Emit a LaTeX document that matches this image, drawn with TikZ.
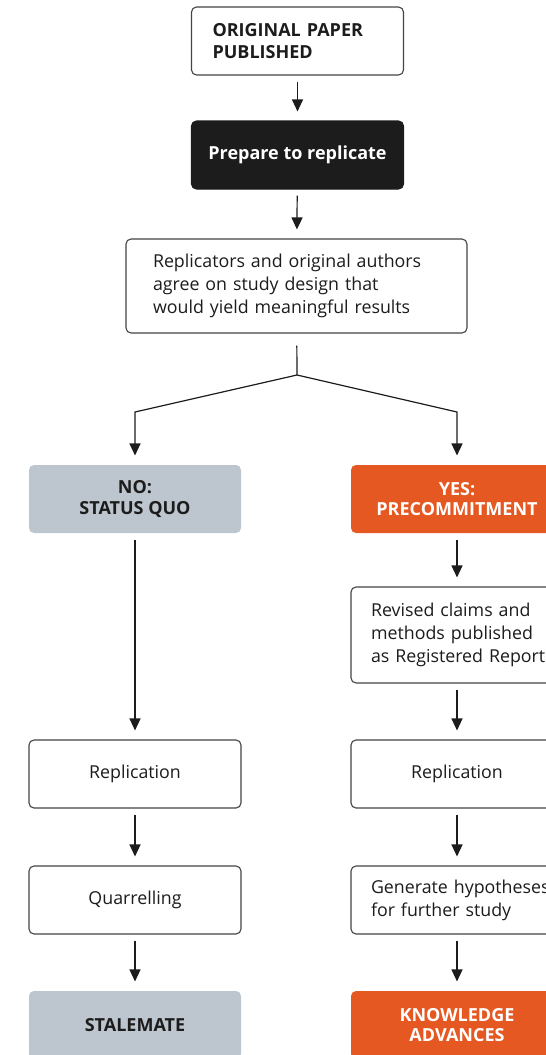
\documentclass[tikz,border=0pt]{standalone}
\usepackage{fontspec}
\setmainfont{Open Sans}
\usepackage{tikz}
\usetikzlibrary{arrows.meta,positioning}
\definecolor{naranja}{RGB}{230,88,34}
\definecolor{grisAzul}{RGB}{189,198,207}
\definecolor{negro}{RGB}{28,28,28}
\definecolor{borde}{RGB}{68,68,68}
\tikzstyle{box}   =[rectangle, rounded corners=5pt, draw=borde,
                    line width=1.1pt, fill=white, inner sep=0pt,
                    minimum width=212pt, minimum height=68pt,
                    text=negro, font=\fontsize{17.8}{23}\selectfont]
\tikzstyle{head}  =[box, font=\fontsize{18}{22}\selectfont\bfseries]
\tikzstyle{endbox}=[box, draw=none, align=center,
                    font=\fontsize{18}{20.5}\selectfont\bfseries]
\tikzstyle{edge}  =[shorten <=6pt, shorten >=9pt, line width=1.2pt,
                    draw=negro, -{Triangle[width=11pt,length=12pt]}]
\tikzstyle{split} =[line width=1.2pt, draw=negro]

\begin{document}
\begin{tikzpicture}[x=1pt,y=-1pt]
    \useasboundingbox (0,0) rectangle (546,1055);
    \clip (0,0) rectangle (546,1055);

    % top of the chart
    \draw (297.5,41) node (orig) [head,text width=170pt,align=left] {ORIGINAL PAPER\\PUBLISHED};
    \draw (297.5,155) node (prep) [head,fill=negro,draw=negro,text=white,align=center] {Prepare to replicate};
    \draw (296.5,286) node (agree) [box,minimum width=341pt,minimum height=94pt,
        text width=287pt,align=left] {Replicators and original authors\\agree on study design that\\would yield meaningful results};

    \coordinate (fork) at (297,375);
    \coordinate (forkL) at (135,412);
    \coordinate (forkR) at (457,412);

    % left column: status quo
    \draw (135,499) node (no) [endbox,fill=grisAzul] {NO:\\STATUS QUO};
    \draw (135,774) node (replL) [box] {Replication};
    \draw (135,900) node (quarrel) [box] {Quarrelling};
    \draw (135,1025) node (stale) [endbox,fill=grisAzul] {STALEMATE};

    % right column: precommitment
    \draw (457,499) node (yes) [endbox,fill=naranja,text=white] {YES:\\PRECOMMITMENT};
    \draw (457,635) node (revised) [box,minimum height=96pt,text width=172pt,align=left]
        {Revised claims and\\methods published\\\mbox{as Registered Report}};
    \draw (457,774) node (replR) [box] {Replication};
    \draw (457,900) node (generate) [box,text width=172pt,align=left]
        {\mbox{Generate hypotheses}\\for further study};
    \draw (457,1025) node (advance) [endbox,fill=naranja,text=white] {KNOWLEDGE\\ADVANCES};

    \foreach \i/\j in{orig/prep,prep/agree,no/replL,replL/quarrel,quarrel/stale,
    yes/revised,revised/replR,replR/generate,generate/advance}
        \draw [edge] (\i) to (\j);

    \draw [split,shorten <=12pt] (agree) -- (fork);
    \draw [edge,shorten <=0pt] (fork) -- (forkL) -- (no);
    \draw [edge,shorten <=0pt] (fork) -- (forkR) -- (yes);
\end{tikzpicture}
\end{document}
